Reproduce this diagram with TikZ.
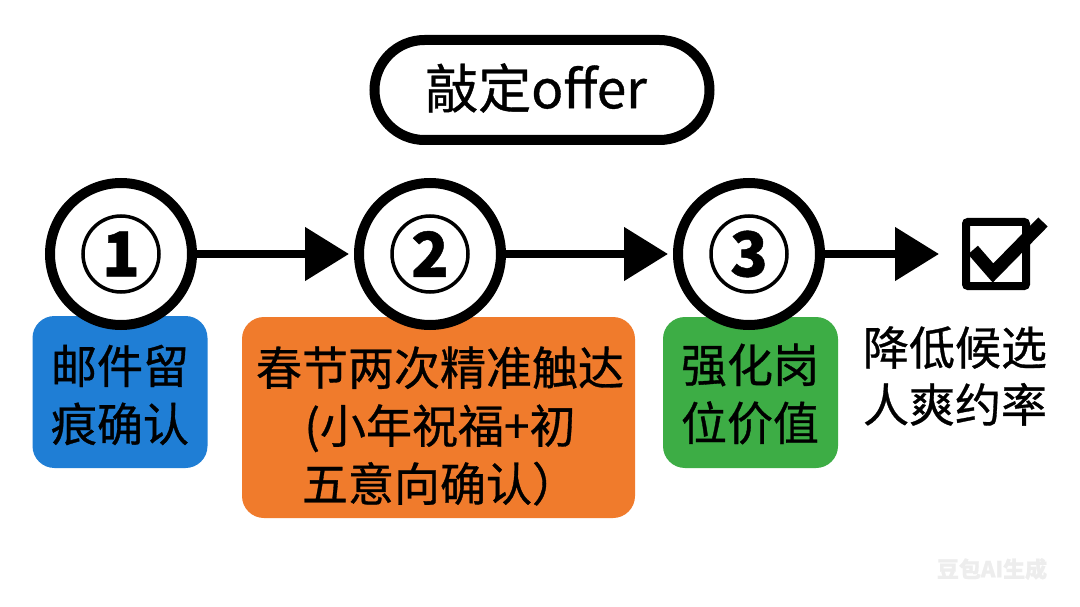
\documentclass[tikz,border=0pt]{standalone}
\usepackage{fontspec}
\setmainfont{Noto Sans CJK SC}[FakeBold=0.7]
\usetikzlibrary{arrows.meta,calc}
\definecolor{cblue}{HTML}{1F7ED5}
\definecolor{corange}{HTML}{F07B2C}
\definecolor{cgreen}{HTML}{3DAD45}
\tikzset{
  ring/.style={circle,draw=black,line width=10pt,fill=white,minimum size=142pt,inner sep=0pt},
  numring/.style={circle,draw=black,line width=3.5pt,minimum size=76pt,inner sep=0pt,font=\fontsize{62}{62}\selectfont\bfseries},
  stepbox/.style={rounded corners=22pt,inner sep=0pt,align=center,text=black,font=\fontsize{46}{58}\selectfont},
  arr/.style={line width=8pt,-{Triangle[length=44pt,width=52pt]}},
  plain/.style={align=center,text=black,font=\fontsize{46}{57}\selectfont},
}
\begin{document}
\begin{tikzpicture}[x=1pt,y=-1pt]
\useasboundingbox[fill=white] (0,0) rectangle (1080,607);
% top pill
\node[draw=black,line width=10pt,rounded corners=50pt,minimum width=335pt,minimum height=100pt,inner sep=0pt] (top) at (542,90) {};
\node[font=\fontsize{53}{53}\selectfont] (toptxt) at (536,88) {敲定offer};
% boxes
\node[stepbox,fill=cblue,minimum width=175pt,minimum height=152pt] (b1) at (120,392) {};
\node[stepbox] (b1t) at (120,395) {邮件留\\痕确认};
\node[stepbox,fill=corange,minimum width=393pt,minimum height=201pt] (b2) at (438.5,417.5) {};
\node[stepbox] (b2t) at (440,426) {春节两次精准触达\\(小年祝福+初\\五意向确认）};
\node[stepbox,fill=cgreen,minimum width=175pt,minimum height=151pt] (b3) at (750.5,392.5) {};
\node[stepbox] (b3t) at (750,394) {强化岗\\位价值};
% circles
\node[ring] (c1) at (121,254) {};
\node[ring] (c2) at (430,254) {};
\node[ring] (c3) at (749,254) {};
\node[numring] (n1) at (c1) {1};
\node[numring] (n2) at (c2) {2};
\node[numring] (n3) at (c3) {3};
% checkbox
\node[draw=black,line width=8pt,rounded corners=2pt,minimum width=60pt,minimum height=64pt,inner sep=0pt] (chk) at (996,254) {};
\coordinate (k1) at ($(chk.center)+(-23,-4)$);
\coordinate (k2) at ($(chk.center)+(-3,19)$);
\coordinate (k3) at ($(chk.center)+(47,-32)$);
\draw[line width=13pt,miter limit=10] (k1) -- (k2) -- (k3);
% arrows
\draw[arr,shorten >=5pt] (c1) -- (c2);
\draw[arr,shorten >=5pt] (c2) -- (c3);
\draw[arr,shorten >=23pt] (c3) -- (chk);
% result text
\node[plain] (res) at (955,376) {降低候选\\人爽约率};
% watermark
\node[font=\fontsize{22}{22}\selectfont\bfseries,text=black!7] (wm) at (992,569) {豆包AI生成};
\end{tikzpicture}
\end{document}
